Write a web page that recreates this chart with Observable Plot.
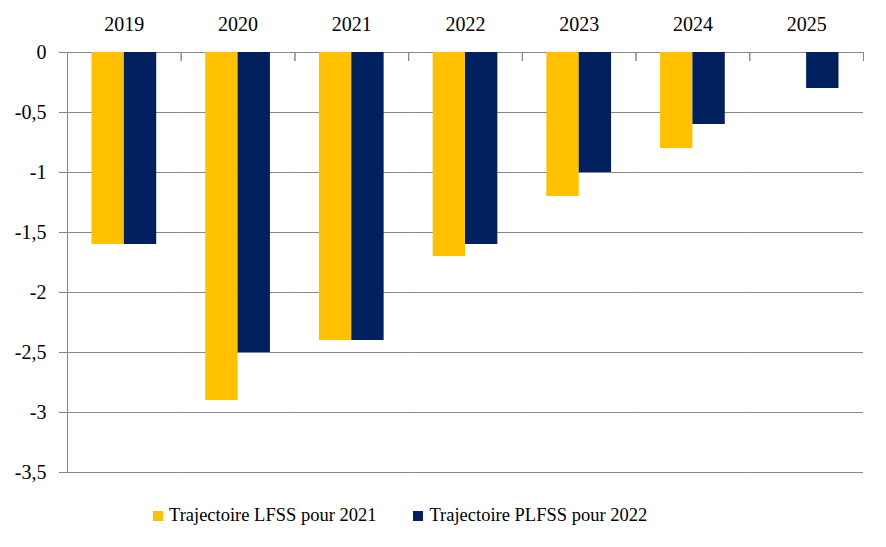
<!DOCTYPE html>
<html>
<head>
<meta charset="utf-8">
<script src="https://cdn.jsdelivr.net/npm/d3@7"></script>
<script src="https://cdn.jsdelivr.net/npm/@observablehq/plot@0.6"></script>
</head>
<body style="margin:0;background:#fff;font-family:'Liberation Serif'">
<div id="wrap" style="position:relative;width:886px;height:547px;font-family:'Liberation Serif'">
  <div id="chart"></div>
  <div id="legend" style="position:absolute;top:505px;left:153px;display:flex;align-items:center;font-size:18.5px;color:#000;white-space:nowrap;font-family:'Liberation Serif'"></div>
</div>
<script>
const years = [2019, 2020, 2021, 2022, 2023, 2024, 2025];
const seriesNames = ["Trajectoire LFSS pour 2021", "Trajectoire PLFSS pour 2022"];
const seriesColors = ["#FFC000", "#002060"];
const lfss2021 = [-1.6, -2.9, -2.4, -1.7, -1.2, -0.8, null];
const plfss2022 = [-1.6, -2.5, -2.4, -1.6, -1.0, -0.6, -0.3];
const yTicks = [0, -0.5, -1, -1.5, -2, -2.5, -3, -3.5];

const rows = [];
years.forEach((yr, i) => {
  rows.push({year: yr, series: seriesNames[0], value: lfss2021[i]});
  rows.push({year: yr, series: seriesNames[1], value: plfss2022[i]});
});

const gray = "#878787";
const serif = "Liberation Serif";
const fmt = d => String(d).replace(".", ",");

const chart = Plot.plot({
  width: 886,
  height: 490,
  marginTop: 52,
  marginBottom: 18,
  marginLeft: 67,
  marginRight: 23,
  style: {fontFamily: serif, fontSize: "19px", color: "#000", background: "#fff"},
  fx: {domain: years, paddingInner: 0, paddingOuter: 0, round: false, label: null},
  x: {domain: seriesNames, paddingInner: 0, paddingOuter: 0.7575, round: false, axis: null},
  y: {domain: [-3.5, 0], label: null},
  color: {domain: seriesNames, range: seriesColors},
  marks: [
    Plot.ruleY(yTicks, {stroke: gray, strokeWidth: 1}),
    Plot.barY(rows.filter(d => d.value != null), {fx: "year", x: "series", y: "value", fill: "series"}),
    Plot.frame({anchor: "left", insetBottom: 412, stroke: gray}),
    Plot.frame({anchor: "right", insetBottom: 412, stroke: gray}),
    Plot.frame({anchor: "left", facetAnchor: "left", stroke: gray}),
    Plot.axisFx({anchor: "top", tickSize: 0, tickPadding: 22, fontSize: 20, tickFormat: d => String(d), label: null}),
    Plot.axisY({ticks: yTicks, tickFormat: fmt, tickSize: 8, tickPadding: 13, stroke: gray, fontSize: 20, label: null})
  ]
});
chart.style.setProperty("font-family", "'Liberation Serif'", "important");
chart.querySelectorAll("text, g").forEach(el => el.style.setProperty("font-family", "'Liberation Serif'", "important"));
document.getElementById("chart").appendChild(chart);

const legend = document.getElementById("legend");
seriesNames.forEach((name, i) => {
  const item = document.createElement("div");
  item.style.cssText = "display:flex;align-items:center;margin-right:37px";
  const sw = document.createElement("div");
  sw.style.cssText = "width:10px;height:10px;margin-right:6px;background:" + seriesColors[i];
  const t = document.createElement("span");
  t.textContent = name;
  t.style.setProperty("font-family", "'Liberation Serif'", "important");
  item.appendChild(sw);
  item.appendChild(t);
  legend.appendChild(item);
});
</script>
</body>
</html>
